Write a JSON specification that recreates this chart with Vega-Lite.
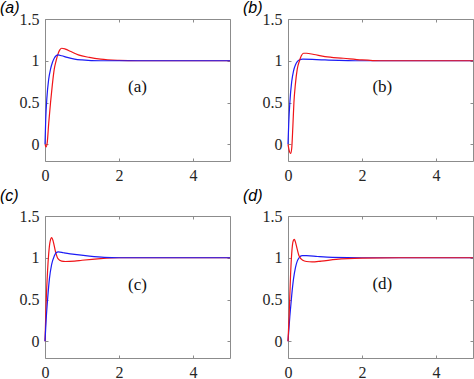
{
"$schema":"https://vega.github.io/schema/vega-lite/v6.json",
"padding":{"left":0,"top":0,"right":0,"bottom":0},
"bounds":"flush",
"columns":2,
"spacing":{"row":55,"column":58},
"config":{
 "view":{"stroke":null},
 "axis":{"domainColor":"#8c8c8c","tickColor":"#8c8c8c","labelColor":"#262626","labelFont":"Liberation Serif","labelFontSize":16,"grid":false,"title":null,"tickSize":-3,"labelPadding":9,"labelFlush":false,"labelOverlap":false},
 "title":{"anchor":"start","frame":"group","dx":-45,"font":"Liberation Sans","fontStyle":"italic","fontSize":16,"fontWeight":"normal","color":"#000000"}
},
"datasets":{"curves":[
{"p":"a","s":"r","t":0,"v":0},{"p":"a","s":"r","t":0.03,"v":-0.03},{"p":"a","s":"r","t":0.06,"v":0.02},{"p":"a","s":"r","t":0.1,"v":0.25},{"p":"a","s":"r","t":0.15,"v":0.5},{"p":"a","s":"r","t":0.2,"v":0.72},{"p":"a","s":"r","t":0.25,"v":0.9},{"p":"a","s":"r","t":0.3,"v":1.0},{"p":"a","s":"r","t":0.35,"v":1.08},{"p":"a","s":"r","t":0.4,"v":1.13},{"p":"a","s":"r","t":0.45,"v":1.15},{"p":"a","s":"r","t":0.55,"v":1.14},{"p":"a","s":"r","t":0.7,"v":1.11},{"p":"a","s":"r","t":0.9,"v":1.07},{"p":"a","s":"r","t":1.2,"v":1.04},{"p":"a","s":"r","t":1.5,"v":1.02},{"p":"a","s":"r","t":2,"v":1.005},{"p":"a","s":"r","t":2.5,"v":1.0},{"p":"a","s":"r","t":5,"v":1.0},
{"p":"a","s":"b","t":0,"v":0},{"p":"a","s":"b","t":0.02,"v":0.3},{"p":"a","s":"b","t":0.05,"v":0.55},{"p":"a","s":"b","t":0.1,"v":0.78},{"p":"a","s":"b","t":0.15,"v":0.9},{"p":"a","s":"b","t":0.2,"v":0.98},{"p":"a","s":"b","t":0.25,"v":1.03},{"p":"a","s":"b","t":0.3,"v":1.06},{"p":"a","s":"b","t":0.35,"v":1.07},{"p":"a","s":"b","t":0.45,"v":1.06},{"p":"a","s":"b","t":0.6,"v":1.04},{"p":"a","s":"b","t":0.8,"v":1.02},{"p":"a","s":"b","t":1.0,"v":1.01},{"p":"a","s":"b","t":1.5,"v":1.0},{"p":"a","s":"b","t":5,"v":1.0},
{"p":"b","s":"r","t":0,"v":0},{"p":"b","s":"r","t":0.03,"v":-0.07},{"p":"b","s":"r","t":0.07,"v":-0.11},{"p":"b","s":"r","t":0.1,"v":-0.05},{"p":"b","s":"r","t":0.13,"v":0.2},{"p":"b","s":"r","t":0.16,"v":0.5},{"p":"b","s":"r","t":0.2,"v":0.72},{"p":"b","s":"r","t":0.25,"v":0.9},{"p":"b","s":"r","t":0.31,"v":1.0},{"p":"b","s":"r","t":0.36,"v":1.06},{"p":"b","s":"r","t":0.42,"v":1.09},{"p":"b","s":"r","t":0.5,"v":1.09},{"p":"b","s":"r","t":0.7,"v":1.075},{"p":"b","s":"r","t":1.0,"v":1.05},{"p":"b","s":"r","t":1.5,"v":1.03},{"p":"b","s":"r","t":2,"v":1.01},{"p":"b","s":"r","t":2.5,"v":1.0},{"p":"b","s":"r","t":5,"v":1.0},
{"p":"b","s":"b","t":0,"v":0},{"p":"b","s":"b","t":0.02,"v":0.25},{"p":"b","s":"b","t":0.05,"v":0.5},{"p":"b","s":"b","t":0.1,"v":0.75},{"p":"b","s":"b","t":0.15,"v":0.88},{"p":"b","s":"b","t":0.2,"v":0.95},{"p":"b","s":"b","t":0.25,"v":0.99},{"p":"b","s":"b","t":0.3,"v":1.01},{"p":"b","s":"b","t":0.4,"v":1.02},{"p":"b","s":"b","t":1,"v":1.01},{"p":"b","s":"b","t":2,"v":1.0},{"p":"b","s":"b","t":5,"v":1.0},
{"p":"c","s":"r","t":0,"v":0},{"p":"c","s":"r","t":0.03,"v":0.45},{"p":"c","s":"r","t":0.07,"v":0.85},{"p":"c","s":"r","t":0.1,"v":1.05},{"p":"c","s":"r","t":0.14,"v":1.2},{"p":"c","s":"r","t":0.18,"v":1.24},{"p":"c","s":"r","t":0.22,"v":1.2},{"p":"c","s":"r","t":0.28,"v":1.08},{"p":"c","s":"r","t":0.35,"v":0.99},{"p":"c","s":"r","t":0.45,"v":0.96},{"p":"c","s":"r","t":0.55,"v":0.955},{"p":"c","s":"r","t":0.8,"v":0.96},{"p":"c","s":"r","t":1.0,"v":0.97},{"p":"c","s":"r","t":1.5,"v":0.99},{"p":"c","s":"r","t":2,"v":1.0},{"p":"c","s":"r","t":5,"v":1.0},
{"p":"c","s":"b","t":0,"v":0},{"p":"c","s":"b","t":0.03,"v":0.25},{"p":"c","s":"b","t":0.07,"v":0.5},{"p":"c","s":"b","t":0.12,"v":0.75},{"p":"c","s":"b","t":0.18,"v":0.92},{"p":"c","s":"b","t":0.25,"v":1.02},{"p":"c","s":"b","t":0.3,"v":1.06},{"p":"c","s":"b","t":0.36,"v":1.07},{"p":"c","s":"b","t":0.5,"v":1.06},{"p":"c","s":"b","t":0.8,"v":1.04},{"p":"c","s":"b","t":1.2,"v":1.02},{"p":"c","s":"b","t":1.6,"v":1.005},{"p":"c","s":"b","t":2,"v":1.0},{"p":"c","s":"b","t":5,"v":1.0},
{"p":"d","s":"r","t":0,"v":0},{"p":"d","s":"r","t":0.03,"v":0.3},{"p":"d","s":"r","t":0.07,"v":0.8},{"p":"d","s":"r","t":0.1,"v":1.05},{"p":"d","s":"r","t":0.14,"v":1.2},{"p":"d","s":"r","t":0.17,"v":1.22},{"p":"d","s":"r","t":0.2,"v":1.19},{"p":"d","s":"r","t":0.25,"v":1.1},{"p":"d","s":"r","t":0.3,"v":1.02},{"p":"d","s":"r","t":0.4,"v":0.97},{"p":"d","s":"r","t":0.5,"v":0.955},{"p":"d","s":"r","t":0.65,"v":0.95},{"p":"d","s":"r","t":0.9,"v":0.96},{"p":"d","s":"r","t":1.3,"v":0.98},{"p":"d","s":"r","t":2,"v":0.995},{"p":"d","s":"r","t":3,"v":1.0},{"p":"d","s":"r","t":5,"v":1.0},
{"p":"d","s":"b","t":0,"v":0},{"p":"d","s":"b","t":0.05,"v":0.3},{"p":"d","s":"b","t":0.1,"v":0.55},{"p":"d","s":"b","t":0.15,"v":0.75},{"p":"d","s":"b","t":0.2,"v":0.88},{"p":"d","s":"b","t":0.25,"v":0.96},{"p":"d","s":"b","t":0.3,"v":1.0},{"p":"d","s":"b","t":0.38,"v":1.025},{"p":"d","s":"b","t":0.5,"v":1.025},{"p":"d","s":"b","t":0.8,"v":1.015},{"p":"d","s":"b","t":1.2,"v":1.005},{"p":"d","s":"b","t":2,"v":1.0},{"p":"d","s":"b","t":5,"v":1.0}
]},
"concat":[
{"width":185,"height":142,"title":{"text":"(a)","offset":-5},
 "resolve":{"axis":{"x":"independent","y":"independent"}},
 "layer":[
  {"data":{"name":"curves"},"transform":[{"filter":"datum.p=='a' && datum.s=='r'"}],"mark":{"type":"line","color":"#f01418","strokeWidth":1.2,"interpolate":"monotone"},
   "encoding":{"x":{"field":"t","type":"quantitative","scale":{"domain":[0,5],"nice":false},"axis":{"orient":"bottom","values":[0,2,4]}},"y":{"field":"v","type":"quantitative","scale":{"domain":[-0.2,1.5],"nice":false},"axis":{"orient":"left","values":[0,0.5,1,1.5],"format":"~g"}}}},
  {"data":{"name":"curves"},"transform":[{"filter":"datum.p=='a' && datum.s=='b'"}],"mark":{"type":"line","color":"#1c1cf5","strokeWidth":1.2,"interpolate":"monotone"},
   "encoding":{"x":{"field":"t","type":"quantitative","scale":{"domain":[0,5],"nice":false},"axis":{"orient":"top","values":[0,2,4],"labels":false}},"y":{"field":"v","type":"quantitative","scale":{"domain":[-0.2,1.5],"nice":false},"axis":{"orient":"right","values":[0,0.5,1,1.5],"labels":false}}}},
  {"data":{"values":[{"t":2.5,"v":0.68,"label":"(a)"}]},"mark":{"type":"text","font":"Liberation Serif","fontSize":17,"color":"#111111"},
   "encoding":{"x":{"field":"t","type":"quantitative","axis":null},"y":{"field":"v","type":"quantitative","axis":null},"text":{"field":"label"}}}
 ]},
{"width":185,"height":142,"title":{"text":"(b)","offset":-5},
 "resolve":{"axis":{"x":"independent","y":"independent"}},
 "layer":[
  {"data":{"name":"curves"},"transform":[{"filter":"datum.p=='b' && datum.s=='b'"}],"mark":{"type":"line","color":"#1c1cf5","strokeWidth":1.2,"interpolate":"monotone"},
   "encoding":{"x":{"field":"t","type":"quantitative","scale":{"domain":[0,5],"nice":false},"axis":{"orient":"bottom","values":[0,2,4]}},"y":{"field":"v","type":"quantitative","scale":{"domain":[-0.2,1.5],"nice":false},"axis":{"orient":"left","values":[0,0.5,1,1.5],"format":"~g"}}}},
  {"data":{"name":"curves"},"transform":[{"filter":"datum.p=='b' && datum.s=='r'"}],"mark":{"type":"line","color":"#f01418","strokeWidth":1.2,"interpolate":"monotone"},
   "encoding":{"x":{"field":"t","type":"quantitative","scale":{"domain":[0,5],"nice":false},"axis":{"orient":"top","values":[0,2,4],"labels":false}},"y":{"field":"v","type":"quantitative","scale":{"domain":[-0.2,1.5],"nice":false},"axis":{"orient":"right","values":[0,0.5,1,1.5],"labels":false}}}},
  {"data":{"values":[{"t":2.55,"v":0.68,"label":"(b)"}]},"mark":{"type":"text","font":"Liberation Serif","fontSize":17,"color":"#111111"},
   "encoding":{"x":{"field":"t","type":"quantitative","axis":null},"y":{"field":"v","type":"quantitative","axis":null},"text":{"field":"label"}}}
 ]},
{"width":185,"height":142,"title":{"text":"(c)","offset":4},
 "resolve":{"axis":{"x":"independent","y":"independent"}},
 "layer":[
  {"data":{"name":"curves"},"transform":[{"filter":"datum.p=='c' && datum.s=='r'"}],"mark":{"type":"line","color":"#f01418","strokeWidth":1.2,"interpolate":"monotone"},
   "encoding":{"x":{"field":"t","type":"quantitative","scale":{"domain":[0,5],"nice":false},"axis":{"orient":"bottom","values":[0,2,4]}},"y":{"field":"v","type":"quantitative","scale":{"domain":[-0.2,1.5],"nice":false},"axis":{"orient":"left","values":[0,0.5,1,1.5],"format":"~g"}}}},
  {"data":{"name":"curves"},"transform":[{"filter":"datum.p=='c' && datum.s=='b'"}],"mark":{"type":"line","color":"#1c1cf5","strokeWidth":1.2,"interpolate":"monotone"},
   "encoding":{"x":{"field":"t","type":"quantitative","scale":{"domain":[0,5],"nice":false},"axis":{"orient":"top","values":[0,2,4],"labels":false}},"y":{"field":"v","type":"quantitative","scale":{"domain":[-0.2,1.5],"nice":false},"axis":{"orient":"right","values":[0,0.5,1,1.5],"labels":false}}}},
  {"data":{"values":[{"t":2.5,"v":0.67,"label":"(c)"}]},"mark":{"type":"text","font":"Liberation Serif","fontSize":17,"color":"#111111"},
   "encoding":{"x":{"field":"t","type":"quantitative","axis":null},"y":{"field":"v","type":"quantitative","axis":null},"text":{"field":"label"}}}
 ]},
{"width":185,"height":142,"title":{"text":"(d)","offset":4},
 "resolve":{"axis":{"x":"independent","y":"independent"}},
 "layer":[
  {"data":{"name":"curves"},"transform":[{"filter":"datum.p=='d' && datum.s=='b'"}],"mark":{"type":"line","color":"#1c1cf5","strokeWidth":1.2,"interpolate":"monotone"},
   "encoding":{"x":{"field":"t","type":"quantitative","scale":{"domain":[0,5],"nice":false},"axis":{"orient":"bottom","values":[0,2,4]}},"y":{"field":"v","type":"quantitative","scale":{"domain":[-0.2,1.5],"nice":false},"axis":{"orient":"left","values":[0,0.5,1,1.5],"format":"~g"}}}},
  {"data":{"name":"curves"},"transform":[{"filter":"datum.p=='d' && datum.s=='r'"}],"mark":{"type":"line","color":"#f01418","strokeWidth":1.2,"interpolate":"monotone"},
   "encoding":{"x":{"field":"t","type":"quantitative","scale":{"domain":[0,5],"nice":false},"axis":{"orient":"top","values":[0,2,4],"labels":false}},"y":{"field":"v","type":"quantitative","scale":{"domain":[-0.2,1.5],"nice":false},"axis":{"orient":"right","values":[0,0.5,1,1.5],"labels":false}}}},
  {"data":{"values":[{"t":2.55,"v":0.69,"label":"(d)"}]},"mark":{"type":"text","font":"Liberation Serif","fontSize":17,"color":"#111111"},
   "encoding":{"x":{"field":"t","type":"quantitative","axis":null},"y":{"field":"v","type":"quantitative","axis":null},"text":{"field":"label"}}}
 ]}
]
}
